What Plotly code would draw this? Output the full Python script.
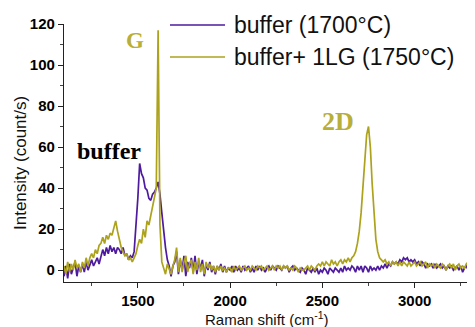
import plotly.graph_objects as go

# Raman shift grid (cm^-1), 10 cm^-1 sampling
raman_shift = list(range(1100, 3301, 10))

buffer_1700 = [
    -3, 2, -4, 3, -2, 1, 4, -3, 2, -1,         # 1100s
    3, -1, 4, 0, 3, 5, 2, 4, 6, 3,             # 1200s
    7, 10, 7, 11, 8, 12, 9, 11, 8, 11,         # 1300s
    10, 8, 11, 7, 8, 5, 7, 6, 9, 20,           # 1400s
    35, 52, 47, 45, 40, 39, 35, 34, 37, 38,    # 1500s
    40, 43, 37, 28, 19, 11, 5, 2, -3, 2,       # 1600s
    4, 9, -2, 5, 0, 7, -3, 4, 1, 6,            # 1700s
    -1, 7, -2, 4, 1, 5, -3, 3, 0, 4,           # 1800s
    -1, 2, -2, 2, 0, 3, -1, 2, -1, 1,          # 1900s
    0, 2, -1, 2, 0, 1, -1, 2, 0, 1,            # 2000s
    2, -1, 1, -1, 2, 0, 2, 0, 1, -1,           # 2100s
    1, 2, 0, 2, 1, 0, 2, 1, 0, 2,              # 2200s
    1, 2, -1, 1, 2, 0, 1, 0, -1, 1,            # 2300s
    0, -2, 1, 0, -1, 1, -1, 1, -2, 0,          # 2400s
    -1, 1, 0, -2, 1, 0, -1, 1, 0, -1,          # 2500s
    1, -1, 2, 0, 1, 0, 2, 1, -1, 2,            # 2600s
    0, 2, -1, 2, 1, -1, 2, 0, 1, 0,            # 2700s
    2, 0, 2, 1, 3, 1, 3, 2, 4, 3,              # 2800s
    4, 3, 5, 4, 6, 5, 6, 4, 5, 4,              # 2900s
    5, 3, 4, 2, 4, 3, 1, 3, 2, 3,              # 3000s
    1, 3, 1, 2, 3, 1, 2, 0, 2, 1,              # 3100s
    2, 0, 1, 2, 0, 2, -1, 1, 2, 0,             # 3200s
    3,                                         # 3300
]

buffer_1lg_1750 = [
    2, -2, 4, -1, 3, 0, 5, 1, 3, -1,           # 1100s
    4, 1, 6, 2, 6, 8, 6, 10, 8, 12,            # 1200s
    13, 16, 13, 17, 15, 18, 17, 21, 24, 19,    # 1300s
    15, 11, 9, 7, 8, 5, 6, 4, 6, 8,            # 1400s
    12, 15, 13, 20, 16, 24, 22, 27, 30, 36,    # 1500s
    40, 117, 22, 4, 1, -2, 3, 0, -2, 2,        # 1600s
    5, 11, -1, 6, -1, 4, 7, -1, 3, 5,          # 1700s
    -2, 4, 0, 6, -1, 3, -2, 4, 1, 3,           # 1800s
    0, 2, -1, 2, 0, 2, 0, 1, -1, 1,            # 1900s
    1, -1, 2, 0, 1, 2, 0, 1, 2, 0,             # 2000s
    1, 0, 2, 1, 0, 2, 1, 2, 0, 1,              # 2100s
    2, 0, 1, 2, 0, 2, 1, 2, 0, 2,              # 2200s
    1, 2, 0, 1, 0, 2, 1, -1, 1, 0,             # 2300s
    0, 1, 2, 0, 2, 1, 0, 2, 3, 2,              # 2400s
    4, 2, 4, 3, 2, 5, 3, 4, 2, 4,              # 2500s
    5, 3, 5, 4, 6, 4, 6, 7, 9, 13,             # 2600s
    19, 28, 42, 56, 66, 70, 60, 42, 26, 15,    # 2700s
    9, 6, 5, 4, 5, 3, 4, 2, 4, 3,              # 2800s
    4, 2, 4, 2, 4, 3, 2, 4, 2, 3,              # 2900s
    4, 2, 3, 4, 2, 3, 4, 1, 3, 2,              # 3000s
    3, 1, 3, 2, 1, 3, 2, 0, 2, 3,              # 3100s
    1, 3, 0, 2, 3, 1, 2, 1, 3, 4,              # 3200s
    7,                                         # 3300
]

series_names = ["buffer (1700°C)", "buffer+ 1LG (1750°C)"]
x_ticks = [1500, 2000, 2500, 3000]
y_ticks = [0, 20, 40, 60, 80, 100, 120]

PURPLE = "#4e1a9e"
OLIVE = "#aca21c"
LABEL_OLIVE = "#b8ae3a"

fig = go.Figure()
fig.add_trace(go.Scatter(x=raman_shift, y=buffer_1700, mode="lines",
                         name=series_names[0], line=dict(color=PURPLE, width=1.7)))
fig.add_trace(go.Scatter(x=raman_shift, y=buffer_1lg_1750, mode="lines",
                         name=series_names[1], line=dict(color=OLIVE, width=1.7)))

tickfont = dict(family="Liberation Sans, Arial, sans-serif", size=15, color="black", weight="bold")

# The page body adds an 8 px offset; margins compensate so the plot area
# sits at x 64..470, y 24..282 in the window.
fig.update_layout(
    width=475, height=327,
    margin=dict(l=56, r=13, t=16, b=53),
    plot_bgcolor="white", paper_bgcolor="white",
    showlegend=False,
    xaxis=dict(range=[1100, 3300], tickvals=x_ticks, ticks="outside", ticklen=5,
               tickwidth=1.2, tickcolor="#222", showline=True, linecolor="#222",
               linewidth=1.2, showgrid=False, zeroline=False, tickfont=tickfont,
               automargin=False,
               minor=dict(dtick=250, tick0=1000, ticks="outside", ticklen=3,
                          tickcolor="#444", showgrid=False)),
    yaxis=dict(range=[-5.8, 120], tickvals=y_ticks, ticks="outside", ticklen=5,
               tickwidth=1.2, tickcolor="#222", showline=True, linecolor="#222",
               linewidth=1.2, showgrid=False, zeroline=False, tickfont=tickfont,
               automargin=False,
               minor=dict(dtick=10, tick0=0, ticks="outside", ticklen=3,
                          tickcolor="#444", showgrid=False)),
)

sans = "Liberation Sans, Arial, sans-serif"
serif = "Liberation Serif, Times New Roman, serif"

# axis titles
fig.add_annotation(text="Raman shift (cm<sup>-1</sup>)", xref="paper", yref="paper",
                   x=(267 - 64) / 406, y=(282 - 318) / 258, showarrow=False,
                   xanchor="center", yanchor="middle", font=dict(family=sans, size=15, color="#111"))
fig.add_annotation(text="Intensity (count/s)", xref="paper", yref="paper",
                   x=(20 - 64) / 406, y=(282 - 163) / 258, showarrow=False, textangle=-90,
                   xanchor="center", yanchor="middle", font=dict(family=sans, size=17, color="#111"))

# peak labels
fig.add_annotation(text="<b>G</b>", x=1482, y=112, showarrow=False,
                   font=dict(family=serif, size=23, color=LABEL_OLIVE))
fig.add_annotation(text="<b>2D</b>", x=2585, y=72.5, showarrow=False,
                   font=dict(family=serif, size=26, color=LABEL_OLIVE))
fig.add_annotation(text="<b>buffer</b>", x=1345, y=58, showarrow=False,
                   font=dict(family=serif, size=24, color="black"))

# legend (manual)
legend_rows = [(25, PURPLE, series_names[0]), (57, OLIVE, series_names[1])]
for py, col, name in legend_rows:
    yp = (282 - py) / 258
    fig.add_shape(type="line", xref="paper", yref="paper",
                  x0=(170 - 64) / 406, x1=(225 - 64) / 406, y0=yp, y1=yp,
                  line=dict(color=col, width=1.5))
    fig.add_annotation(text=name, xref="paper", yref="paper", x=(232 - 64) / 406, y=yp,
                       xanchor="left", yanchor="middle", showarrow=False,
                       font=dict(family=sans, size=23, color="#111"))

fig.write_html("out.html")
